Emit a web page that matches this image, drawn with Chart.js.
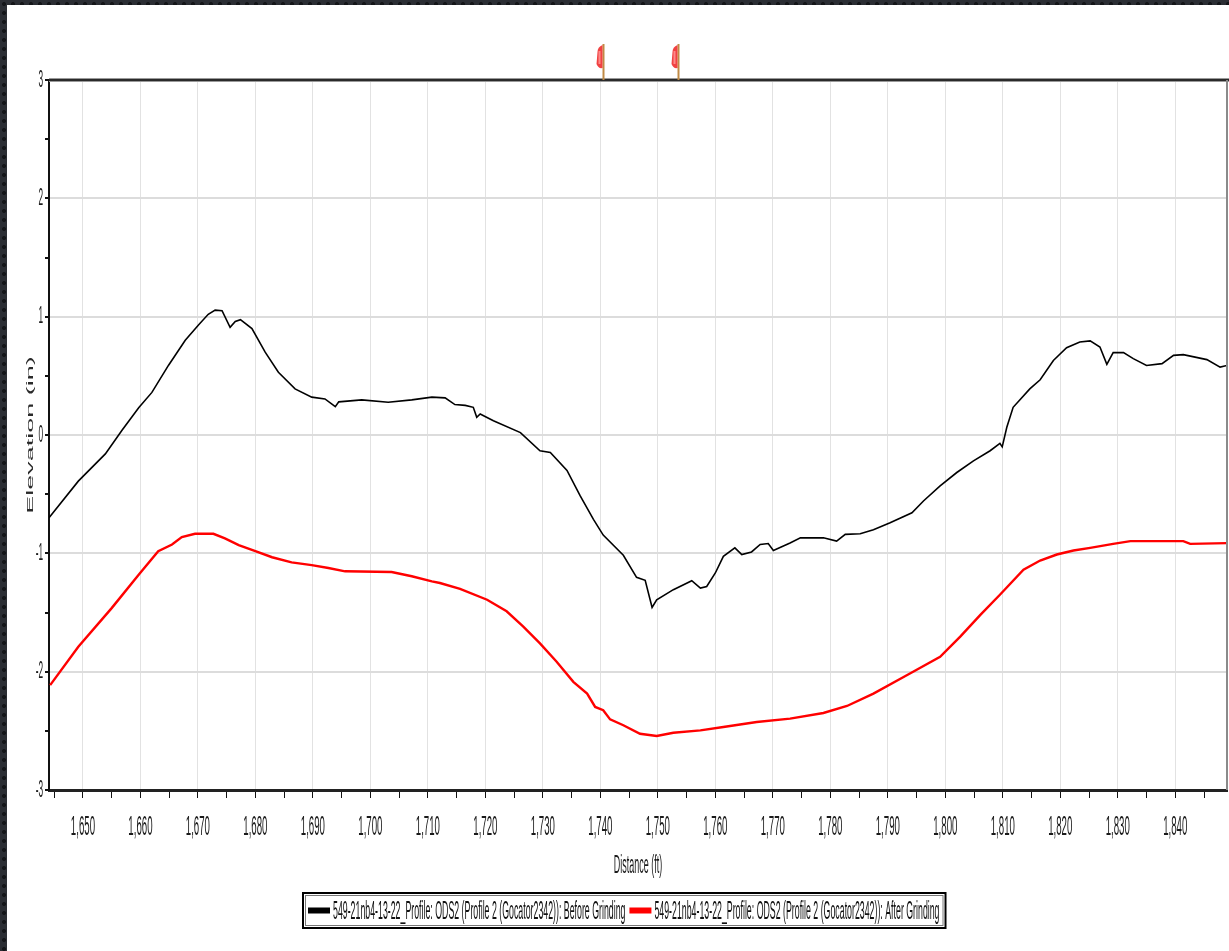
<!DOCTYPE html>
<html><head><meta charset="utf-8">
<script src="https://cdn.jsdelivr.net/npm/chart.js@4.4.0/dist/chart.umd.min.js"></script>
<style>
html,body{margin:0;padding:0;width:1229px;height:951px;overflow:hidden;}
body{background:#2b2e34 radial-gradient(circle at 4px 4px,#141619 1.7px,transparent 2.3px) 0 0/9px 9px;}
#paper{position:absolute;left:7px;top:5px;width:1222px;height:946px;background:#fff;}
canvas{position:absolute;left:0;top:0;}
</style></head><body>
<div id="paper"></div>
<canvas id="c" width="1229" height="951"></canvas>
<script>
const seriesNames = [
  "549-21nb4-13-22_Profile: ODS2 (Profile 2 (Gocator2342)): Before Grinding",
  "549-21nb4-13-22_Profile: ODS2 (Profile 2 (Gocator2342)): After Grinding"
];
const seriesColors = ["#000000", "#ff0000"];

const blackX = [1644.1,1649.2,1653.9,1656.8,1659.7,1662.0,1664.9,1667.8,1670.1,1671.8,1673.0,1674.2,1675.6,1676.5,1677.4,1679.4,1681.7,1684.0,1686.9,1689.8,1692.1,1693.9,1694.5,1698.5,1703.1,1707.2,1710.7,1713.0,1714.7,1716.5,1717.9,1718.5,1719.1,1721.4,1726.1,1729.5,1731.3,1734.2,1736.5,1738.8,1740.5,1744.0,1746.3,1747.8,1749.0,1749.8,1752.7,1755.9,1757.4,1758.5,1760.0,1761.4,1763.4,1764.6,1766.3,1767.8,1769.2,1770.1,1773.0,1774.8,1778.8,1781.1,1782.6,1785.2,1787.5,1790.4,1794.2,1796.2,1799.1,1802.0,1804.9,1807.8,1809.5,1809.9,1810.7,1811.8,1814.7,1816.5,1818.8,1821.1,1823.4,1825.2,1826.9,1828.1,1829.2,1831.0,1832.7,1835.0,1837.7,1839.7,1841.4,1845.5,1847.8,1849.0];
const blackY = [-0.70,-0.39,-0.16,0.04,0.23,0.36,0.59,0.80,0.93,1.02,1.055,1.05,0.91,0.96,0.975,0.90,0.70,0.53,0.39,0.32,0.305,0.24,0.28,0.297,0.277,0.297,0.32,0.314,0.257,0.25,0.234,0.15,0.178,0.12,0.02,-0.133,-0.148,-0.30,-0.515,-0.713,-0.846,-1.016,-1.203,-1.228,-1.457,-1.392,-1.307,-1.231,-1.294,-1.28,-1.166,-1.025,-0.954,-1.01,-0.988,-0.925,-0.917,-0.976,-0.912,-0.869,-0.869,-0.897,-0.84,-0.835,-0.80,-0.742,-0.657,-0.558,-0.43,-0.317,-0.218,-0.133,-0.071,-0.10,0.065,0.234,0.39,0.467,0.63,0.738,0.786,0.795,0.744,0.597,0.696,0.696,0.645,0.588,0.603,0.673,0.679,0.637,0.574,0.588];

const redX = [1644.3,1649.2,1655.0,1659.7,1663.1,1665.5,1667.2,1669.5,1672.7,1674.7,1677.1,1680.0,1682.9,1686.3,1689.8,1692.7,1695.6,1703.7,1707.2,1710.7,1712.1,1715.6,1720.3,1723.7,1726.6,1729.5,1732.4,1735.3,1737.7,1739.1,1740.5,1741.7,1744.0,1746.9,1749.8,1752.7,1757.4,1761.4,1767.2,1773.0,1778.8,1782.9,1787.5,1793.3,1799.1,1802.6,1806.1,1809.5,1813.6,1816.5,1819.4,1822.3,1825.2,1829.2,1832.2,1841.4,1842.6,1849.0];
const redY = [-2.114,-1.789,-1.463,-1.18,-0.982,-0.925,-0.863,-0.835,-0.835,-0.874,-0.93,-0.982,-1.033,-1.076,-1.10,-1.124,-1.152,-1.158,-1.194,-1.237,-1.251,-1.30,-1.392,-1.49,-1.619,-1.761,-1.916,-2.086,-2.185,-2.298,-2.326,-2.403,-2.453,-2.525,-2.544,-2.516,-2.496,-2.468,-2.425,-2.397,-2.349,-2.29,-2.185,-2.03,-1.874,-1.704,-1.52,-1.35,-1.138,-1.061,-1.01,-0.976,-0.954,-0.92,-0.897,-0.897,-0.92,-0.914];

const xTickValues = [1645,1650,1655,1660,1665,1670,1675,1680,1685,1690,1695,1700,1705,1710,1715,1720,1725,1730,1735,1740,1745,1750,1755,1760,1765,1770,1775,1780,1785,1790,1795,1800,1805,1810,1815,1820,1825,1830,1835,1840,1845];
const xMajorValues = [1650,1660,1670,1680,1690,1700,1710,1720,1730,1740,1750,1760,1770,1780,1790,1800,1810,1820,1830,1840];
const xTickLabels = ["1,650","1,660","1,670","1,680","1,690","1,700","1,710","1,720","1,730","1,740","1,750","1,760","1,770","1,780","1,790","1,800","1,810","1,820","1,830","1,840"];
const yTickValues = [-3,-2.5,-2,-1.5,-1,-0.5,0,0.5,1,1.5,2,2.5,3];
const yMajorValues = [-3,-2,-1,0,1,2,3];
const yTickLabels = ["-3","-2","-1","0","1","2","3"];
const markerX = [1740.3, 1753.4];
const xRange = [1644.1, 1849.0];
const yRange = [-3, 3];

const SQUISH = 0.345;
const FONT = "'Liberation Sans', Arial, sans-serif";

const canvas = document.getElementById('c');
const ctx2d = canvas.getContext('2d');
const origFill = ctx2d.fillText;
ctx2d.fillText = function(text, x, y) {
  const m = this.getTransform();
  const p = m.transformPoint(new DOMPoint(x, y));
  this.save();
  this.setTransform(SQUISH * m.a, m.b, SQUISH * m.c, m.d, p.x, p.y);
  origFill.call(this, text, 0, 0);
  this.restore();
};

const framePlugin = {
  id: 'frame',
  afterDraw(chart) {
    const {ctx, chartArea: a, scales} = chart;
    ctx.save();
    // top border
    ctx.strokeStyle = '#9a9a9a'; ctx.lineWidth = 4;
    ctx.beginPath(); ctx.moveTo(a.left, a.top); ctx.lineTo(a.right + 2, a.top); ctx.stroke();
    ctx.strokeStyle = '#2a2a2a'; ctx.lineWidth = 2;
    ctx.beginPath(); ctx.moveTo(a.left, a.top); ctx.lineTo(a.right + 2, a.top); ctx.stroke();
    // right border
    ctx.strokeStyle = '#8a8a8a'; ctx.lineWidth = 2;
    ctx.beginPath(); ctx.moveTo(a.right, a.top); ctx.lineTo(a.right, a.bottom); ctx.stroke();
    // markers
    markerX.forEach(v => {
      const px = Math.round(scales.x.getPixelForValue(v)) + 1.5;
      ctx.strokeStyle = '#c08a45'; ctx.lineWidth = 2;
      ctx.beginPath(); ctx.moveTo(px, a.top - 36); ctx.lineTo(px, a.top); ctx.stroke();
      ctx.fillStyle = 'rgba(240,45,45,0.9)';
      ctx.beginPath();
      ctx.moveTo(px - 1, a.top - 35);
      ctx.quadraticCurveTo(px - 6, a.top - 33, px - 6, a.top - 28);
      ctx.lineTo(px - 7, a.top - 16);
      ctx.quadraticCurveTo(px - 5, a.top - 11, px - 1, a.top - 12);
      ctx.closePath(); ctx.fill();
      ctx.fillStyle = 'rgba(255,140,140,0.95)';
      ctx.fillRect(px - 5, a.top - 29, 2, 13);
    });
    // legend
    const fontPx = 25.5;
    ctx.font = fontPx + 'px ' + FONT;
    const boxLeft = 303, boxTop = 893, boxH = 35;
    let x = boxLeft + 5;
    const cy = boxTop + boxH / 2;
    const items = chart.data.datasets.map(ds => ({label: ds.label, color: ds.borderColor,
      w: ctx.measureText(ds.label).width * SQUISH}));
    let total = 5;
    items.forEach(it => { total += 22 + 3 + it.w + 4; });
    ctx.fillStyle = '#fff';
    ctx.fillRect(boxLeft, boxTop, total + 2, boxH);
    ctx.strokeStyle = '#000'; ctx.lineWidth = 2;
    ctx.strokeRect(boxLeft, boxTop, total + 2, boxH);
    ctx.strokeStyle = '#777'; ctx.lineWidth = 1;
    ctx.strokeRect(boxLeft + 2.5, boxTop + 2.5, total - 3, boxH - 5);
    ctx.textBaseline = 'middle'; ctx.textAlign = 'left';
    items.forEach(it => {
      ctx.fillStyle = it.color;
      ctx.fillRect(x, cy - 3, 22, 6);
      ctx.fillStyle = '#111';
      ctx.fillText(it.label, x + 25, cy + 1);
      x += 22 + 3 + it.w + 4;
    });
    ctx.restore();
  }
};

new Chart(ctx2d, {
  type: 'scatter',
  data: {
    datasets: [
      {label: seriesNames[0], data: blackX.map((v, i) => ({x: v, y: blackY[i]})),
       borderColor: seriesColors[0], backgroundColor: seriesColors[0], borderWidth: 1.6,
       showLine: true, pointRadius: 0, tension: 0},
      {label: seriesNames[1], data: redX.map((v, i) => ({x: v, y: redY[i]})),
       borderColor: seriesColors[1], backgroundColor: seriesColors[1], borderWidth: 2.4,
       showLine: true, pointRadius: 0, tension: 0}
    ]
  },
  options: {
    responsive: false, animation: false, devicePixelRatio: 1,
    layout: {padding: {top: 80, left: 0, right: 2, bottom: 0}},
    plugins: {legend: {display: false}, tooltip: {enabled: false}},
    scales: {
      x: {
        type: 'linear', min: xRange[0], max: xRange[1],
        afterBuildTicks: s => { s.ticks = xTickValues.map(v => ({value: v})); },
        afterFit: s => { s.height = 161; s.paddingLeft = 0; s.paddingRight = 0; },
        ticks: {
          autoSkip: false, maxRotation: 0, minRotation: 0, padding: 12, color: '#1a1a1a',
          font: {family: FONT, size: 28},
          callback: v => { const i = xMajorValues.indexOf(v); return i >= 0 ? xTickLabels[i] : ''; }
        },
        grid: {
          color: c => (c.tick && xMajorValues.includes(c.tick.value)) ? '#e2e2e2' : 'rgba(0,0,0,0)',
          lineWidth: 1, tickColor: '#111', tickLength: 8, drawTicks: true
        },
        border: {color: '#222', width: 3},
        title: {display: true, text: 'Distance (ft)', color: '#1a1a1a',
          font: {family: FONT, size: 26}, padding: {top: 0, bottom: 70}}
      },
      y: {
        type: 'linear', min: yRange[0], max: yRange[1],
        afterBuildTicks: s => { s.ticks = yTickValues.map(v => ({value: v})); },
        afterFit: s => { s.width = 49; s.paddingTop = 0; s.paddingBottom = 0; },
        ticks: {
          autoSkip: false, padding: 2, color: '#1a1a1a',
          font: {family: FONT, size: 24},
          callback: v => { const i = yMajorValues.indexOf(v); return i >= 0 ? yTickLabels[i] : ''; }
        },
        grid: {
          color: c => (c.tick && yMajorValues.includes(c.tick.value)) ? '#dcdcdc' : 'rgba(0,0,0,0)',
          lineWidth: 2, tickColor: '#111', tickLength: 4
        },
        border: {color: '#111', width: 2},
        title: {display: true, text: 'Elevation (in)', color: '#2a2a2a',
          font: {family: FONT, size: 27}, padding: {top: 14, bottom: 0}}
      }
    }
  },
  plugins: [framePlugin]
});
</script>
</body></html>
